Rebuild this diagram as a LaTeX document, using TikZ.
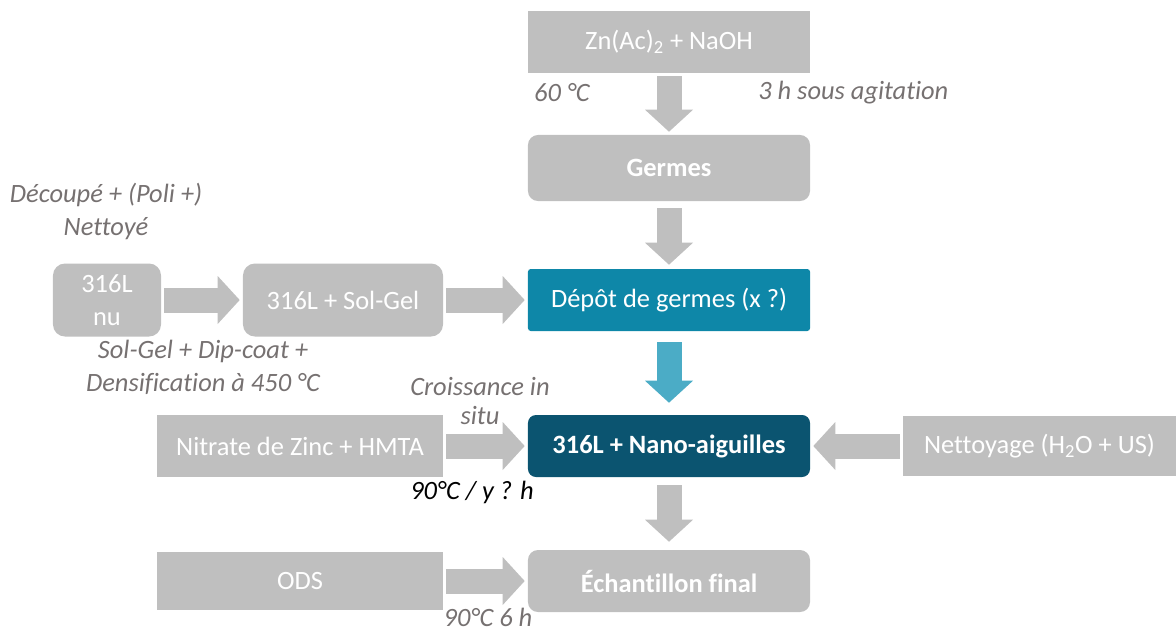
\documentclass[tikz,border=0pt]{standalone}
\usepackage{fontspec}
\setmainfont{Carlito}[Ligatures=NoCommon]
\usetikzlibrary{arrows.meta,positioning}
\definecolor{gris}{HTML}{BFBFBF}
\definecolor{grisnote}{HTML}{767171}
\definecolor{sarcelle}{HTML}{0E87A8}
\definecolor{sarcellef}{HTML}{0B5470}
\definecolor{bleufl}{HTML}{4BACC6}

\begin{document}
\begin{tikzpicture}[x=0.025cm, y=-0.025cm,
  every node/.style={font=\fontsize{18.8}{23}\selectfont, inner sep=0pt, align=center},
  etape/.style={fill=gris, text=white, minimum width=7.05cm, minimum height=1.55cm},
  etaper/.style={etape, rounded corners=0.25cm},
  note/.style={text=grisnote, font=\fontsize{18.8}{23.5}\selectfont\itshape},
  flow/.style={draw=gris, line width=0.625cm, -{Triangle[width=1.2cm,length=0.55cm,line width=0pt]}, shorten <=0.075cm, shorten >=0.075cm}]
\useasboundingbox (0,0) rectangle (1176,634);
% colonne principale
\node[etape] (zn) at (669,42) {Zn(Ac)\textsubscript{2} + NaOH};
\node[etaper, minimum height=1.65cm] (germes) at (669,168) {\textbf{Germes}};
\node[etape, fill=sarcelle, rounded corners=2pt] (depot) at (669,300) {Dépôt de germes (x ?)};
\node[etape, fill=sarcellef, rounded corners=0.2cm] (nano) at (669,446) {\textbf{316L + Nano-aiguilles}};
\node[etaper] (ech) at (669,581) {\textbf{Échantillon final}};
% entrees laterales
\node[etaper, rounded corners=0.3cm, minimum width=2.7cm, minimum height=1.825cm] (nu) at (107,300) {316L\\nu};
\node[etaper, rounded corners=0.3cm, minimum width=5cm, minimum height=1.825cm] (solgel) at (343,300) {316L + Sol-Gel};
\node[etape, minimum width=7.15cm] (nitrate) at (300,446) {Nitrate de Zinc + HMTA};
\node[etape, minimum width=6.825cm, minimum height=1.5cm] (nett) at (1039.5,446) {Nettoyage (H\textsubscript{2}O + US)};
\node[etape, minimum width=7.15cm, minimum height=1.45cm] (ods) at (300,581) {ODS};
% conditions
\node[note] (t60) at (562,93) {60 °C};
\node[note, anchor=west] (tagit) at (758,93) {3 h sous agitation};
\node[note] (tdecoupe) at (106,211) {Découpé + (Poli +)\\Nettoyé};
\node[note] (tsolgel) at (203,367) {Sol-Gel + Dip-coat +\\Densification à 450 °C};
\node[note, font=\fontsize{18.8}{21}\selectfont\itshape] (tcrois) at (480,401) {Croissance in\\situ};
\node[note, text=black] (tcond) at (472,492) {90°C / y ? h};
\node[note] (t90) at (488,617) {90°C 6 h};
% fleches
\draw[flow] (zn) -- (germes);
\draw[flow, shorten <=0.175cm, shorten >=0.1cm] (germes) -- (depot);
\draw[flow, draw=bleufl, shorten <=0.275cm, shorten >=0.3cm] (depot) -- (nano);
\draw[flow, shorten <=0.2cm, shorten >=0.2cm] (nano) -- (ech);
\draw[flow] (nu) -- (solgel);
\draw[flow] (solgel) -- (depot);
\draw[flow] (nitrate) -- (nano);
\draw[flow] (nett) -- (nano);
\draw[flow] (ods) -- (ech);
\end{tikzpicture}
\end{document}
